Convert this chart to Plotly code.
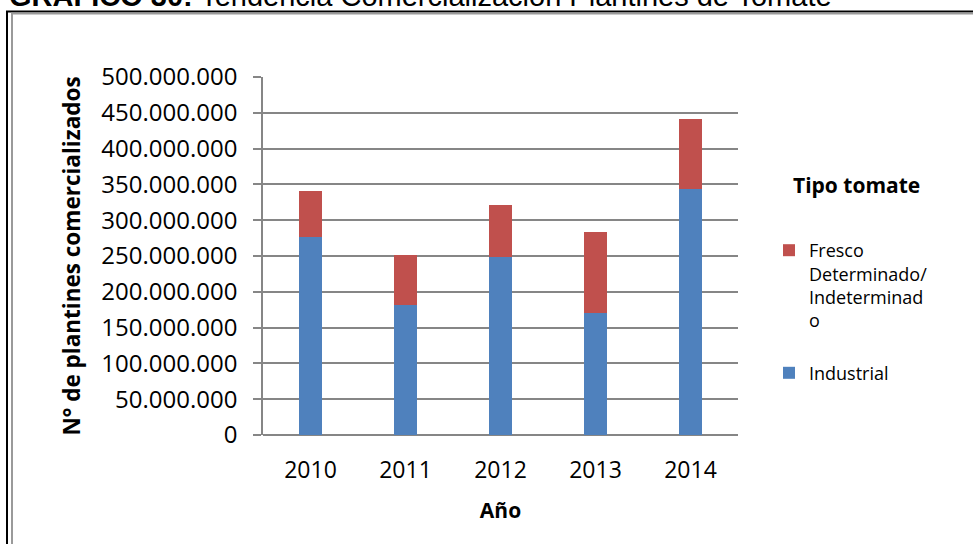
import plotly.graph_objects as go

# Plantines de tomate comercializados por año y tipo
years = ["2010", "2011", "2012", "2013", "2014"]
industrial = [277_000_000, 181_000_000, 249_000_000, 170_000_000, 343_000_000]
fresco = [64_000_000, 70_000_000, 72_000_000, 113_000_000, 98_000_000]

y_ticks = list(range(0, 500_000_001, 50_000_000))

W, H = 973, 544
ML, MR, MT, MB = 263, 235, 77, 109
PW, PH = W - ML - MR, H - MT - MB


def px(x):
    return (x - ML) / PW


def py(y):
    return (H - MB - y) / PH


BLUE = "#4F81BD"
RED = "#C0504D"
GRID = "#868686"
FONT = "Open Sans"

fig = go.Figure()
fig.add_trace(go.Bar(
    x=years, y=industrial, name="Industrial",
    marker=dict(color=BLUE, line=dict(width=0)),
    legendgroup="ind", legendrank=2,
))
fig.add_trace(go.Bar(
    x=years, y=fresco, name="Fresco<br>Determinado/<br>Indeterminad<br>o",
    marker=dict(color=RED, line=dict(width=0)),
    legendgroup="fre", legendrank=1,
))

fig.update_layout(
    width=W, height=H,
    margin=dict(l=ML, r=MR, t=MT, b=MB, pad=0),
    paper_bgcolor="white", plot_bgcolor="white",
    barmode="stack", bargap=0.75,
    separators=",.",
    font=dict(family=FONT, color="#000000"),
    showlegend=True,
    legend=dict(
        x=px(769), y=py(232), xanchor="left", yanchor="top",
        traceorder="grouped", valign="top",
        font=dict(size=18, family=FONT, color="#000000"),
        tracegroupgap=26, bgcolor="rgba(0,0,0,0)",
    ),
    xaxis=dict(
        showgrid=False, showline=False, zeroline=False,
        ticks="", tickfont=dict(size=23, family=FONT),
        ticklabelstandoff=19,
        title=dict(text="<b>Año</b>", font=dict(size=21, family=FONT), standoff=19),
    ),
    yaxis=dict(
        range=[0, 500_000_000], tickvals=y_ticks, tickformat=",d",
        showgrid=True, gridcolor=GRID, gridwidth=1.5,
        showline=True, linecolor=GRID, linewidth=1.5,
        zeroline=True, zerolinecolor=GRID, zerolinewidth=1.5,
        ticks="outside", ticklen=8, tickcolor=GRID, tickwidth=1.5,
        tickfont=dict(size=24, family=FONT),
        ticklabelstandoff=11,
        title=dict(text="<b>N° de plantines comercializados</b>",
                   font=dict(size=22.5, family=FONT), standoff=14),
    ),
)

# legend heading
fig.add_annotation(
    x=px(856), y=py(185), xref="paper", yref="paper",
    text="<b>Tipo tomate</b>", showarrow=False,
    font=dict(size=21, family=FONT, color="#000000"),
    xanchor="center", yanchor="middle",
)

# document caption above the chart frame
fig.add_annotation(
    x=px(7), y=py(14), xref="paper", yref="paper",
    text="<b>GRÁFICO 30:</b> Tendencia Comercialización Plantines de Tomate",
    showarrow=False, font=dict(size=29, family="Liberation Sans", color="#000000"),
    xanchor="left", yanchor="bottom",
)

# double frame around the chart
frame = [
    (6, 11.5, W, 11.5, "#000000"),
    (11, 13.5, W, 13.5, "#9A9A9A"),
    (7, 11, 7, H, "#000000"),
    (12, 13, 12, H, "#9A9A9A"),
]
for x0, y0, x1, y1, c in frame:
    fig.add_shape(type="line", xref="paper", yref="paper",
                  x0=px(x0), y0=py(y0), x1=px(x1), y1=py(y1),
                  line=dict(color=c, width=2))

fig.write_html("out.html")
